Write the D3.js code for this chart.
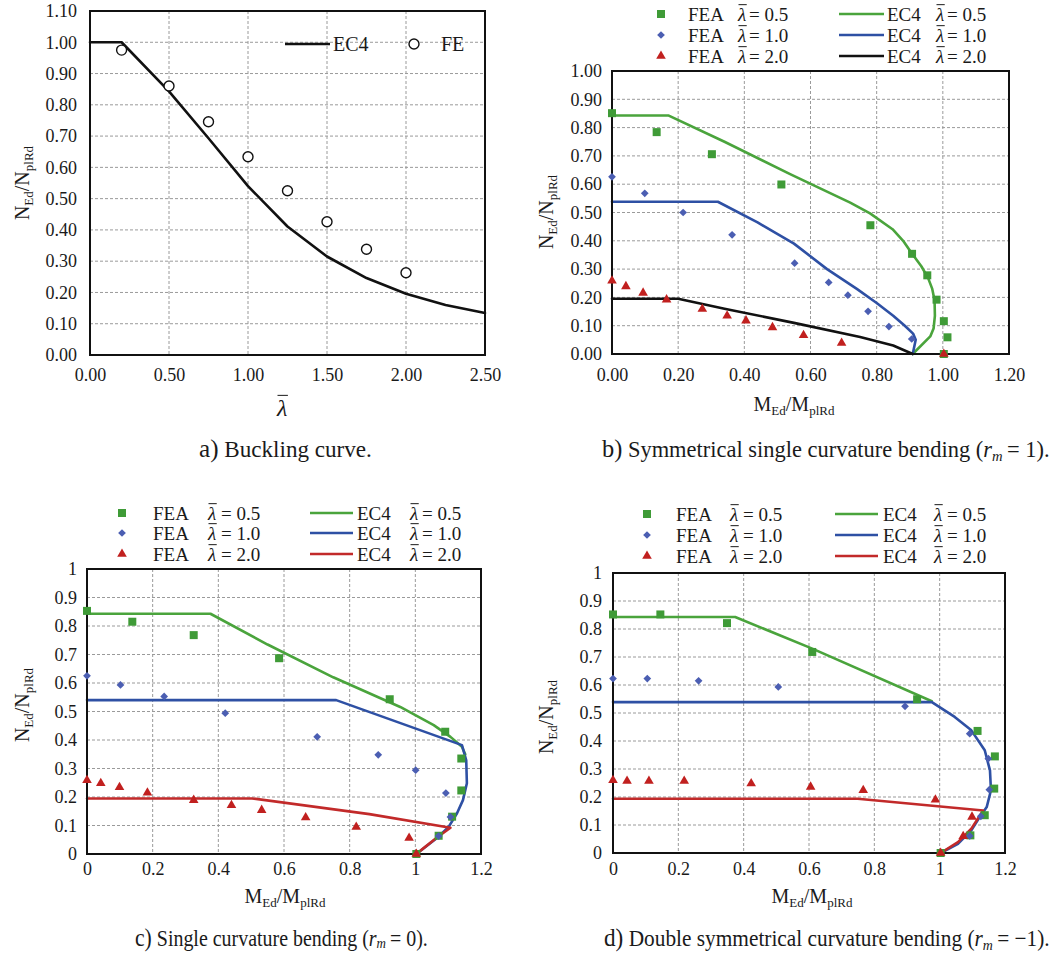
<!DOCTYPE html>
<html><head><meta charset="utf-8">
<script src="https://cdn.jsdelivr.net/npm/d3@7"></script>
<style>
body{margin:0;background:#fff}
svg text{font-family:'Liberation Serif','Times New Roman',serif;}
</style>
</head><body>
<svg id="chart" width="1054" height="958"></svg>
<script>
// ---------------- DATA ----------------
// Panel a: buckling curve
const aXTicks = [0, 0.5, 1.0, 1.5, 2.0, 2.5];
const aYTicks = [0, 0.1, 0.2, 0.3, 0.4, 0.5, 0.6, 0.7, 0.8, 0.9, 1.0, 1.1];
const aEC4 = [[0,1.0],[0.2,1.0],[0.5,0.843],[0.75,0.693],[1.0,0.540],[1.25,0.411],[1.5,0.315],[1.75,0.246],[2.0,0.196],[2.25,0.160],[2.5,0.134]];
const aFE = [[0.2,0.975],[0.5,0.860],[0.75,0.746],[1.0,0.634],[1.25,0.525],[1.5,0.426],[1.75,0.338],[2.0,0.263]];

// Common ticks for interaction panels
const mXTicks = [0, 0.2, 0.4, 0.6, 0.8, 1.0, 1.2];
const mYTicks = [0, 0.1, 0.2, 0.3, 0.4, 0.5, 0.6, 0.7, 0.8, 0.9, 1.0];
const legendValues = ["0.5", "1.0", "2.0"];

// Panel b: r_m = 1
const bFEA05 = [[0,0.851],[0.135,0.784],[0.302,0.706],[0.512,0.599],[0.781,0.455],[0.907,0.354],[0.953,0.278],[0.981,0.192],[1.003,0.116],[1.014,0.059],[1.003,0.0]];
const bFEA10 = [[0,0.626],[0.099,0.568],[0.215,0.500],[0.363,0.421],[0.552,0.321],[0.655,0.253],[0.713,0.208],[0.774,0.151],[0.837,0.097],[0.906,0.053]];
const bFEA20 = [[0,0.259],[0.042,0.239],[0.094,0.216],[0.165,0.192],[0.273,0.159],[0.348,0.135],[0.405,0.118],[0.485,0.094],[0.579,0.066],[0.694,0.039],[1.003,0.0]];
const bEC405 = [[0,0.843],[0.17,0.843],[0.34,0.75],[0.54,0.635],[0.72,0.535],[0.78,0.497],[0.848,0.441],[0.88,0.40],[0.906,0.356],[0.935,0.31],[0.955,0.27],[0.968,0.23],[0.975,0.19],[0.976,0.135],[0.972,0.09],[0.962,0.062],[0.909,0.0]];
const bEC410 = [[0,0.538],[0.32,0.538],[0.44,0.465],[0.55,0.39],[0.65,0.30],[0.74,0.23],[0.80,0.18],[0.85,0.135],[0.885,0.10],[0.91,0.072],[0.918,0.05],[0.909,0.0]];
const bEC420 = [[0,0.195],[0.2,0.195],[0.34,0.16],[0.55,0.11],[0.75,0.06],[0.85,0.03],[0.909,0.0]];

// Panel c: r_m = 0
const cFEA05 = [[0,0.853],[0.138,0.815],[0.325,0.768],[0.585,0.687],[0.922,0.543],[1.091,0.429],[1.140,0.335],[1.140,0.223],[1.112,0.131],[1.071,0.064],[1.003,0.0]];
const cFEA10 = [[0,0.625],[0.102,0.593],[0.235,0.553],[0.421,0.494],[0.701,0.411],[0.887,0.348],[1.001,0.294],[1.093,0.214],[1.107,0.130],[1.071,0.063]];
const cFEA20 = [[0,0.259],[0.042,0.248],[0.099,0.234],[0.184,0.215],[0.325,0.189],[0.440,0.171],[0.532,0.154],[0.666,0.128],[0.820,0.095],[0.981,0.056],[1.003,0.0]];
const cEC405 = [[0,0.843],[0.376,0.843],[0.55,0.735],[0.75,0.62],[0.954,0.516],[1.056,0.452],[1.107,0.411],[1.142,0.376],[1.152,0.35]];
const cEC410 = [[0,0.54],[0.759,0.54],[1.142,0.382],[1.155,0.329],[1.157,0.248],[1.145,0.189],[1.127,0.143],[1.102,0.096],[1.065,0.055],[1.003,0.0]];
const cEC420 = [[0,0.195],[0.503,0.195],[0.86,0.14],[1.107,0.092],[1.065,0.057],[1.03,0.025],[1.003,0.0]];

// Panel d: r_m = -1
const dFEA05 = [[0,0.852],[0.145,0.852],[0.349,0.821],[0.610,0.718],[0.931,0.549],[1.116,0.436],[1.169,0.345],[1.167,0.230],[1.138,0.135],[1.094,0.063],[1.003,0.0]];
const dFEA10 = [[0,0.623],[0.105,0.623],[0.262,0.615],[0.506,0.593],[0.894,0.524],[1.092,0.426],[1.149,0.337],[1.152,0.226],[1.126,0.131],[1.092,0.061]];
const dFEA20 = [[0,0.260],[0.043,0.257],[0.110,0.257],[0.218,0.257],[0.423,0.248],[0.605,0.236],[0.766,0.224],[0.987,0.190],[1.099,0.129],[1.072,0.060],[1.003,0.0]];
const dEC405 = [[0,0.843],[0.374,0.843],[0.61,0.73],[0.976,0.542]];
const dEC410 = [[0,0.539],[0.976,0.539],[1.046,0.486],[1.097,0.438],[1.138,0.367],[1.154,0.295],[1.157,0.224],[1.144,0.164],[1.123,0.129],[1.097,0.081],[1.056,0.033],[1.003,0.0]];
const dEC420 = [[0,0.194],[0.749,0.194],[1.133,0.152],[1.097,0.087],[1.056,0.039],[1.003,0.0]];

// ---------------- STYLE ----------------
const FONT = "'Liberation Serif','Times New Roman',serif";
const INK = '#1a1a1a';
const GREEN_M = '#3f9b37', BLUE_M = '#4b5eb2', RED_M = '#c1201f';
const GREEN_L = '#4aa43c', BLUE_L = '#2e50a4', RED_L = '#c22a2a', BLACK_L = '#111111';

const svg = d3.select('#chart');

function addText(g, x, y, parts, o = {}) {
  const t = g.append('text').attr('x', x).attr('y', y)
    .style('font-family', FONT).attr('font-size', o.size || 18).attr('fill', INK);
  if (o.anchor) t.attr('text-anchor', o.anchor);
  if (o.transform) t.attr('transform', o.transform);
  parts.forEach(p => {
    if (typeof p === 'string') p = {t: p};
    const s = t.append('tspan').text(p.t);
    if (p.size) s.attr('font-size', p.size);
    if (p.dy) s.attr('dy', p.dy);
    if (p.italic) s.attr('font-style', 'italic');
  });
  if (o.width) {
    const w = t.node().getBBox().width;
    const s = o.width / w;
    t.attr('transform', `translate(${x},${y}) scale(${s},1) translate(${-x},${-y})`);
  }
  return t;
}

function lambdaBar(g, x, y, size) {
  const t = g.append('text').attr('x', x).attr('y', y).style('font-family', FONT)
    .attr('font-size', size).attr('font-style', 'italic').attr('fill', INK).text('λ');
  const b = t.node().getBBox();
  const yy = y - size * 0.86;
  g.append('line').attr('x1', b.x + 1.5).attr('x2', b.x + b.width + 0.5)
    .attr('y1', yy).attr('y2', yy).attr('stroke', INK).attr('stroke-width', 1);
}

function panel(cfg) {
  const g = svg.append('g');
  const x = d3.scaleLinear().domain(cfg.xDomain).range([cfg.left, cfg.right]);
  const y = d3.scaleLinear().domain(cfg.yDomain).range([cfg.bottom, cfg.top]);
  const eps = 1e-9;
  g.append('g').selectAll('line')
    .data(cfg.xTicks.filter(t => t > cfg.xDomain[0] + eps && t < cfg.xDomain[1] - eps)).join('line')
    .attr('x1', d => x(d)).attr('x2', d => x(d)).attr('y1', cfg.top).attr('y2', cfg.bottom)
    .attr('stroke', '#9a9a9a').attr('stroke-width', 1).attr('stroke-dasharray', '3,2');
  g.append('g').selectAll('line')
    .data(cfg.yTicks.filter(t => t > cfg.yDomain[0] + eps && t < cfg.yDomain[1] - eps)).join('line')
    .attr('y1', d => y(d)).attr('y2', d => y(d)).attr('x1', cfg.left).attr('x2', cfg.right)
    .attr('stroke', '#9a9a9a').attr('stroke-width', 1).attr('stroke-dasharray', '3,2');

  const ax = g.append('g').attr('transform', `translate(0,${cfg.bottom})`)
    .call(d3.axisBottom(x).tickValues(cfg.xTicks).tickSize(0).tickPadding(cfg.xPad).tickFormat(cfg.fmt));
  const ay = g.append('g').attr('transform', `translate(${cfg.left},0)`)
    .call(d3.axisLeft(y).tickValues(cfg.yTicks).tickSize(0).tickPadding(cfg.yPad).tickFormat(cfg.fmt));
  [ax, ay].forEach(a => {
    a.attr('font-family', null);
    a.select('.domain').remove();
    a.selectAll('text').style('font-family', FONT).attr('font-size', 18).attr('fill', INK);
  });

  const layer = g.append('g');
  g.append('rect').attr('x', cfg.left).attr('y', cfg.top)
    .attr('width', cfg.right - cfg.left).attr('height', cfg.bottom - cfg.top)
    .attr('fill', 'none').attr('stroke', '#111').attr('stroke-width', 2);
  const top = g.append('g');
  return {g, layer, top, x, y};
}

function drawLine(p, data, color) {
  const line = d3.line().x(d => p.x(d[0])).y(d => p.y(d[1]));
  p.layer.append('path').datum(data).attr('d', line).attr('fill', 'none')
    .attr('stroke', color).attr('stroke-width', 2.6).attr('stroke-linejoin', 'round').attr('stroke-linecap', 'round');
}

const symSq = d3.symbol().type(d3.symbolSquare).size(64)();
const symDia = d3.symbol().type(d3.symbolSquare).size(30)();
const symTri = d3.symbol().type(d3.symbolTriangle).size(40)();

function drawMarkers(p, data, kind, color) {
  const path = kind === 'sq' ? symSq : kind === 'dia' ? symDia : symTri;
  const rot = kind === 'dia' ? ' rotate(45)' : '';
  p.top.append('g').selectAll('path').data(data).join('path')
    .attr('d', path).attr('fill', color)
    .attr('transform', d => `translate(${p.x(d[0])},${p.y(d[1])})${rot}`);
}

function yTitle(g, cx, cy) {
  addText(g, 0, 0, ['N', {t: 'Ed', size: 13, dy: 4}, {t: '/N', dy: -4}, {t: 'plRd', size: 13, dy: 4}],
    {size: 20, anchor: 'middle', transform: `translate(${cx},${cy}) rotate(-90)`});
}
function xTitleM(g, cx, y) {
  addText(g, cx, y, ['M', {t: 'Ed', size: 13, dy: 4}, {t: '/M', dy: -4}, {t: 'plRd', size: 13, dy: 4}],
    {size: 20, anchor: 'middle'});
}

function legend(g, L, lineColors) {
  const mk = [['sq', GREEN_M], ['dia', BLUE_M], ['tri', RED_M]];
  legendValues.forEach((v, i) => {
    const ry = L.rows[i];
    const sym = mk[i][0] === 'sq' ? symSq : mk[i][0] === 'dia' ? symDia : symTri;
    g.append('path').attr('d', sym).attr('fill', mk[i][1])
      .attr('transform', `translate(${L.mx},${ry})${mk[i][0] === 'dia' ? ' rotate(45)' : ''}`);
    addText(g, L.fea, ry + 7, ['FEA'], {size: 19});
    lambdaBar(g, L.lam1, ry + 7, 19);
    addText(g, L.eq1, ry + 7, ['= ' + v], {size: 19});
    g.append('line').attr('x1', L.l0).attr('x2', L.l1).attr('y1', ry).attr('y2', ry)
      .attr('stroke', lineColors[i]).attr('stroke-width', 2.6);
    addText(g, L.ec, ry + 7, ['EC4'], {size: 19});
    lambdaBar(g, L.lam2, ry + 7, 19);
    addText(g, L.eq2, ry + 7, ['= ' + v], {size: 19});
  });
}

const fmt2 = d3.format('.2f');
const fmtShort = d => String(+d.toFixed(1));

// ---------------- PANEL A ----------------
const pa = panel({left: 90, right: 485, top: 11, bottom: 355, xDomain: [0, 2.5], yDomain: [0, 1.1],
  xTicks: aXTicks, yTicks: aYTicks, fmt: fmt2, xPad: 13, yPad: 13});
drawLine(pa, aEC4, BLACK_L);
pa.top.append('g').selectAll('circle').data(aFE).join('circle')
  .attr('cx', d => pa.x(d[0])).attr('cy', d => pa.y(d[1])).attr('r', 5)
  .attr('fill', 'white').attr('stroke', '#111').attr('stroke-width', 1.4);
// legend a
pa.top.append('line').attr('x1', 285).attr('x2', 330).attr('y1', 44).attr('y2', 44)
  .attr('stroke', BLACK_L).attr('stroke-width', 2.6);
addText(pa.top, 333, 51, ['EC4'], {size: 20});
pa.top.append('circle').attr('cx', 414).attr('cy', 44).attr('r', 5)
  .attr('fill', 'white').attr('stroke', '#111').attr('stroke-width', 1.4);
addText(pa.top, 441, 51, ['FE'], {size: 20});
yTitle(svg, 29, 183);
lambdaBar(svg, 277, 416, 24);
addText(svg, 199, 457, [{t: 'a)', size: 25}, ' Buckling curve.'], {size: 23, width: 173});

// ---------------- PANEL B ----------------
const pb = panel({left: 612, right: 1009, top: 71, bottom: 354, xDomain: [0, 1.2], yDomain: [0, 1.0],
  xTicks: mXTicks, yTicks: mYTicks, fmt: fmt2, xPad: 14, yPad: 10});
drawLine(pb, bEC405, GREEN_L); drawLine(pb, bEC410, BLUE_L); drawLine(pb, bEC420, BLACK_L);
drawMarkers(pb, bFEA05, 'sq', GREEN_M); drawMarkers(pb, bFEA10, 'dia', BLUE_M); drawMarkers(pb, bFEA20, 'tri', RED_M);
legend(svg, {rows: [14, 35, 56], mx: 661, fea: 688, lam1: 738, eq1: 749, l0: 839, l1: 884, ec: 887, lam2: 936, eq2: 947},
  [GREEN_L, BLUE_L, BLACK_L]);
yTitle(svg, 553, 212);
xTitleM(svg, 794, 411);
addText(svg, 602, 457, [{t: 'b)', size: 25}, ' Symmetrical single curvature bending (', {t: 'r', italic: true},
  {t: 'm', italic: true, size: 15, dy: 4}, {t: '\u2009= 1).', dy: -4}], {size: 23, width: 448});

// ---------------- PANEL C ----------------
const pc = panel({left: 87, right: 481, top: 569, bottom: 854, xDomain: [0, 1.2], yDomain: [0, 1.0],
  xTicks: mXTicks, yTicks: mYTicks, fmt: fmtShort, xPad: 8, yPad: 10});
drawLine(pc, cEC405, GREEN_L); drawLine(pc, cEC410, BLUE_L); drawLine(pc, cEC420, RED_L);
drawMarkers(pc, cFEA05, 'sq', GREEN_M); drawMarkers(pc, cFEA10, 'dia', BLUE_M); drawMarkers(pc, cFEA20, 'tri', RED_M);
legend(svg, {rows: [513, 533, 554], mx: 122, fea: 153, lam1: 208, eq1: 221, l0: 310, l1: 353, ec: 357, lam2: 410, eq2: 422},
  [GREEN_L, BLUE_L, RED_L]);
yTitle(svg, 29, 705);
xTitleM(svg, 285, 903);
addText(svg, 135, 946, [{t: 'c)', size: 25}, ' Single curvature bending (', {t: 'r', italic: true},
  {t: 'm', italic: true, size: 15, dy: 2}, {t: '\u2009= 0).', dy: -2}], {size: 23, width: 293});

// ---------------- PANEL D ----------------
const pd = panel({left: 613, right: 1005, top: 573, bottom: 853, xDomain: [0, 1.2], yDomain: [0, 1.0],
  xTicks: mXTicks, yTicks: mYTicks, fmt: fmtShort, xPad: 9, yPad: 11});
drawLine(pd, dEC405, GREEN_L); drawLine(pd, dEC410, BLUE_L); drawLine(pd, dEC420, RED_L);
drawMarkers(pd, dFEA05, 'sq', GREEN_M); drawMarkers(pd, dFEA10, 'dia', BLUE_M); drawMarkers(pd, dFEA20, 'tri', RED_M);
legend(svg, {rows: [514, 535, 556], mx: 647, fea: 676, lam1: 730, eq1: 743, l0: 835, l1: 878, ec: 883, lam2: 934, eq2: 947},
  [GREEN_L, BLUE_L, RED_L]);
yTitle(svg, 553, 717);
xTitleM(svg, 812, 903);
addText(svg, 604, 946, [{t: 'd)', size: 25}, ' Double symmetrical curvature bending (', {t: 'r', italic: true},
  {t: 'm', italic: true, size: 15, dy: 4}, {t: '\u2009= \u22121).', dy: -4}], {size: 23, width: 446});
</script>
</body></html>
